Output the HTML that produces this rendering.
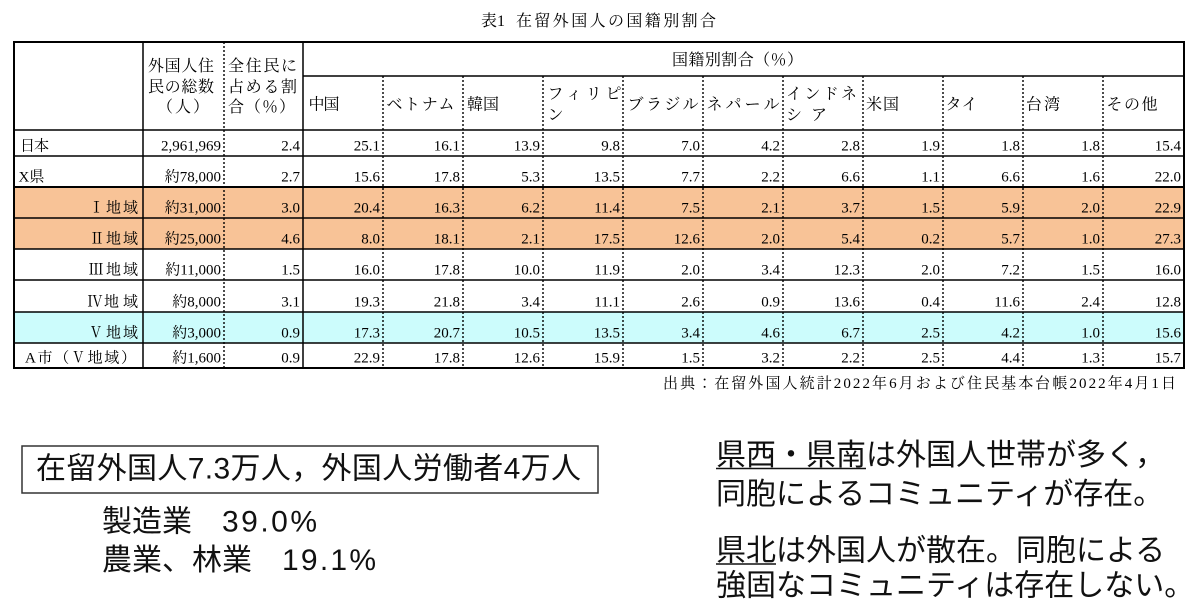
<!DOCTYPE html>
<html lang="ja">
<head>
<meta charset="utf-8">
<style>
html,body{margin:0;padding:0;background:#fff;}
body{width:1200px;height:606px;overflow:hidden;}
svg{display:block;}
.s{font-family:"Liberation Serif","Noto Serif CJK SC",serif;font-size:15px;fill:#000;}
.h{font-family:"Liberation Serif","Noto Serif CJK SC",serif;font-size:16px;fill:#000;}
.t{font-family:"Liberation Serif","Noto Serif CJK SC",serif;font-size:16px;fill:#000;}
.g{font-family:"Liberation Sans","Noto Sans CJK JP",sans-serif;font-size:30px;fill:#111;}
</style>
</head>
<body>
<svg width="1200" height="606" viewBox="0 0 1200 606" xmlns="http://www.w3.org/2000/svg">
<rect x="0" y="0" width="1200" height="606" fill="#fff"/>

<!-- title -->
<text class="t" x="481" y="26">表1</text>
<text class="t" x="516" y="26" textLength="200" lengthAdjust="spacing">在留外国人の国籍別割合</text>

<!-- row backgrounds -->
<rect x="14" y="187" width="1170" height="62" fill="#F8C397"/>
<rect x="14" y="312" width="1170" height="31" fill="#CCFCFC"/>

<!-- horizontal lines -->
<g stroke="#000" stroke-width="1.5">
<line x1="303" y1="76" x2="1184" y2="76"/>
<line x1="14" y1="130" x2="1184" y2="130"/>
<line x1="14" y1="156" x2="1184" y2="156"/>
<line x1="14" y1="187" x2="1184" y2="187" stroke-width="2"/>
<line x1="14" y1="218" x2="1184" y2="218"/>
<line x1="14" y1="249" x2="1184" y2="249"/>
<line x1="14" y1="280" x2="1184" y2="280"/>
<line x1="14" y1="312" x2="1184" y2="312"/>
<line x1="14" y1="343" x2="1184" y2="343"/>
<line x1="143" y1="42" x2="143" y2="368"/>
<line x1="303" y1="42" x2="303" y2="368"/>
</g>
<!-- dotted verticals -->
<g stroke="#000" stroke-width="1.4" stroke-dasharray="2 2">
<line x1="224" y1="42" x2="224" y2="368"/>
<line x1="383" y1="76" x2="383" y2="368"/>
<line x1="463" y1="76" x2="463" y2="368"/>
<line x1="543" y1="76" x2="543" y2="368"/>
<line x1="623" y1="76" x2="623" y2="368"/>
<line x1="703" y1="76" x2="703" y2="368"/>
<line x1="783" y1="76" x2="783" y2="368"/>
<line x1="863" y1="76" x2="863" y2="368"/>
<line x1="943" y1="76" x2="943" y2="368"/>
<line x1="1023" y1="76" x2="1023" y2="368"/>
<line x1="1103" y1="76" x2="1103" y2="368"/>
</g>
<rect x="14" y="42" width="1170" height="326" fill="none" stroke="#000" stroke-width="2"/>

<!-- header text -->
<g class="h">
<text x="148" y="71" textLength="66" lengthAdjust="spacing">外国人住</text>
<text x="148" y="92" textLength="66" lengthAdjust="spacing">民の総数</text>
<text x="157" y="112" textLength="52" lengthAdjust="spacing">（人）</text>
<text x="228" y="71" textLength="69" lengthAdjust="spacing">全住民に</text>
<text x="228" y="92" textLength="69" lengthAdjust="spacing">占める割</text>
<text x="228" y="112" textLength="67" lengthAdjust="spacing">合（％）</text>
<text x="672" y="65" textLength="131" lengthAdjust="spacing">国籍別割合（％）</text>

<text x="308.5" y="109.5" textLength="31" lengthAdjust="spacing">中国</text>
<text x="386.5" y="109.5" textLength="68" lengthAdjust="spacing">ベトナム</text>
<text x="467" y="109.5" textLength="32" lengthAdjust="spacing">韓国</text>
<text x="547.5" y="99" textLength="74" lengthAdjust="spacing">フィリピ</text>
<text x="547.5" y="120">ン</text>
<text x="627.5" y="109.5" textLength="71" lengthAdjust="spacing">ブラジル</text>
<text x="706.5" y="109.5" textLength="73" lengthAdjust="spacing">ネパール</text>
<text x="786" y="99" textLength="71" lengthAdjust="spacing">インドネ</text>
<text x="786" y="120" textLength="41" lengthAdjust="spacing">シア</text>
<text x="866" y="109.5" textLength="33" lengthAdjust="spacing">米国</text>
<text x="945.5" y="109.5" textLength="32" lengthAdjust="spacing">タイ</text>
<text x="1026" y="109.5" textLength="34" lengthAdjust="spacing">台湾</text>
<text x="1106.5" y="109.5" textLength="51" lengthAdjust="spacing">その他</text>
</g>

<!-- row labels -->
<g class="s">
<text x="20" y="150.5" textLength="29" lengthAdjust="spacing">日本</text>
<text x="18.5" y="181.5">X県</text>
<text x="96.5" y="212.5" text-anchor="middle">Ⅰ</text>
<text x="106" y="212.5" textLength="32" lengthAdjust="spacing">地域</text>
<text x="97" y="243.5" text-anchor="middle">Ⅱ</text>
<text x="106" y="243.5" textLength="32" lengthAdjust="spacing">地域</text>
<text x="96" y="274.5" text-anchor="middle">Ⅲ</text>
<text x="106" y="274.5" textLength="32" lengthAdjust="spacing">地域</text>
<text x="95" y="306.5" text-anchor="middle">Ⅳ</text>
<text x="104" y="306.5" textLength="34" lengthAdjust="spacing">地域</text>
<text x="96" y="337.5" text-anchor="middle">Ⅴ</text>
<text x="106" y="337.5" textLength="32" lengthAdjust="spacing">地域</text>
<text x="25" y="362.5" textLength="111" lengthAdjust="spacing">A市（Ⅴ地域）</text>
</g>

<!-- data -->
<g class="s" text-anchor="end">
<g transform="translate(0,150.5)">
<text x="221">2,961,969</text><text x="300">2.4</text><text x="380">25.1</text><text x="460">16.1</text><text x="540">13.9</text><text x="620">9.8</text><text x="700">7.0</text><text x="780">4.2</text><text x="860">2.8</text><text x="940">1.9</text><text x="1020">1.8</text><text x="1100">1.8</text><text x="1181">15.4</text>
</g>
<g transform="translate(0,181.5)">
<text x="221">約78,000</text><text x="300">2.7</text><text x="380">15.6</text><text x="460">17.8</text><text x="540">5.3</text><text x="620">13.5</text><text x="700">7.7</text><text x="780">2.2</text><text x="860">6.6</text><text x="940">1.1</text><text x="1020">6.6</text><text x="1100">1.6</text><text x="1181">22.0</text>
</g>
<g transform="translate(0,212.5)">
<text x="221">約31,000</text><text x="300">3.0</text><text x="380">20.4</text><text x="460">16.3</text><text x="540">6.2</text><text x="620">11.4</text><text x="700">7.5</text><text x="780">2.1</text><text x="860">3.7</text><text x="940">1.5</text><text x="1020">5.9</text><text x="1100">2.0</text><text x="1181">22.9</text>
</g>
<g transform="translate(0,243.5)">
<text x="221">約25,000</text><text x="300">4.6</text><text x="380">8.0</text><text x="460">18.1</text><text x="540">2.1</text><text x="620">17.5</text><text x="700">12.6</text><text x="780">2.0</text><text x="860">5.4</text><text x="940">0.2</text><text x="1020">5.7</text><text x="1100">1.0</text><text x="1181">27.3</text>
</g>
<g transform="translate(0,274.5)">
<text x="221">約11,000</text><text x="300">1.5</text><text x="380">16.0</text><text x="460">17.8</text><text x="540">10.0</text><text x="620">11.9</text><text x="700">2.0</text><text x="780">3.4</text><text x="860">12.3</text><text x="940">2.0</text><text x="1020">7.2</text><text x="1100">1.5</text><text x="1181">16.0</text>
</g>
<g transform="translate(0,306.5)">
<text x="221">約8,000</text><text x="300">3.1</text><text x="380">19.3</text><text x="460">21.8</text><text x="540">3.4</text><text x="620">11.1</text><text x="700">2.6</text><text x="780">0.9</text><text x="860">13.6</text><text x="940">0.4</text><text x="1020">11.6</text><text x="1100">2.4</text><text x="1181">12.8</text>
</g>
<g transform="translate(0,337.5)">
<text x="221">約3,000</text><text x="300">0.9</text><text x="380">17.3</text><text x="460">20.7</text><text x="540">10.5</text><text x="620">13.5</text><text x="700">3.4</text><text x="780">4.6</text><text x="860">6.7</text><text x="940">2.5</text><text x="1020">4.2</text><text x="1100">1.0</text><text x="1181">15.6</text>
</g>
<g transform="translate(0,362.5)">
<text x="221">約1,600</text><text x="300">0.9</text><text x="380">22.9</text><text x="460">17.8</text><text x="540">12.6</text><text x="620">15.9</text><text x="700">1.5</text><text x="780">3.2</text><text x="860">2.2</text><text x="940">2.5</text><text x="1020">4.4</text><text x="1100">1.3</text><text x="1181">15.7</text>
</g>
</g>

<!-- source -->
<text class="s" x="663" y="388" textLength="513" lengthAdjust="spacing">出典：在留外国人統計2022年6月および住民基本台帳2022年4月1日</text>

<!-- bottom left -->
<rect x="22" y="446" width="576" height="47" fill="none" stroke="#333" stroke-width="1.5"/>
<text class="g" x="36" y="478.5" textLength="545" lengthAdjust="spacing">在留外国人7.3万人，外国人労働者4万人</text>
<text class="g" x="102" y="531.5">製造業</text>
<text class="g" x="222" y="531.5" textLength="95" lengthAdjust="spacing">39.0%</text>
<text class="g" x="102" y="570">農業、林業</text>
<text class="g" x="282" y="570" textLength="94" lengthAdjust="spacing">19.1%</text>

<!-- bottom right -->
<text class="g" x="716" y="465">県西・県南は外国人世帯が多く，</text>
<text class="g" x="716" y="504">同胞によるコミュニティが存在。</text>
<text class="g" x="716" y="560.5">県北は外国人が散在。同胞による</text>
<text class="g" x="716" y="595.5">強固なコミュニティは存在しない。</text>
<g stroke="#111" stroke-width="1.5">
<line x1="716" y1="468.5" x2="866" y2="468.5"/>
<line x1="716" y1="564" x2="776" y2="564"/>
</g>
</svg>
</body>
</html>
